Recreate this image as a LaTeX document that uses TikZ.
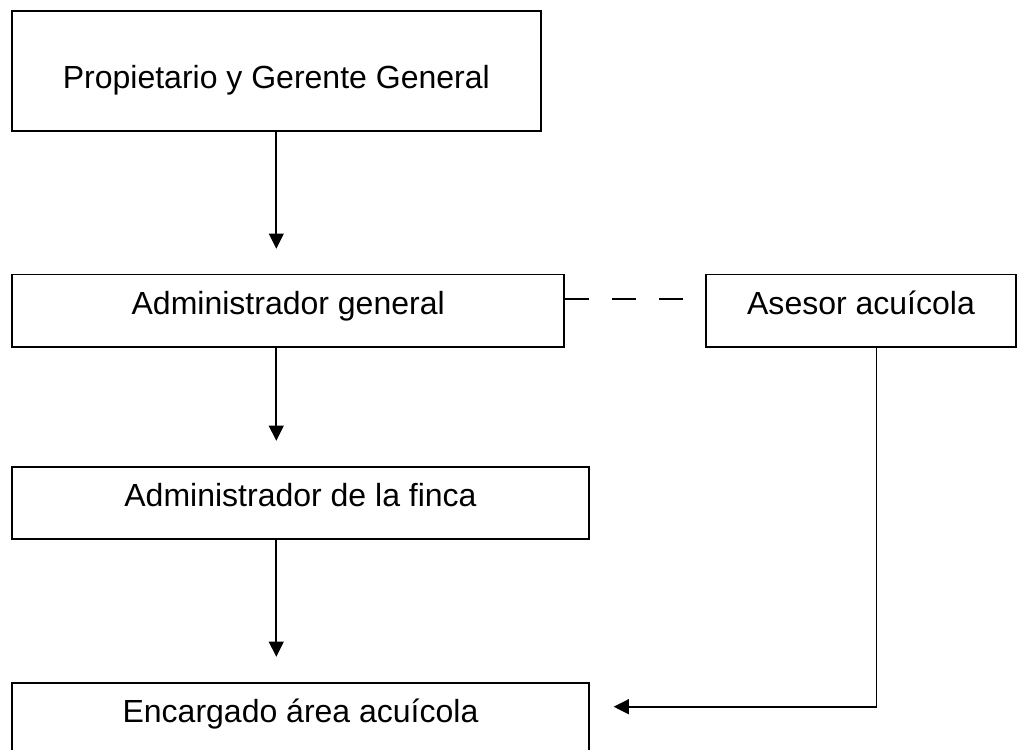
\documentclass[tikz,border=0pt]{standalone}
\usepackage{fontspec}
\setmainfont{Liberation Sans}
\usetikzlibrary{arrows.meta}

\begin{document}
\begin{tikzpicture}[x=0.025cm, y=-0.025cm, line width=1.2pt,
  every node/.style={draw, rectangle, line width=1.2pt, font=\fontsize{22.76pt}{27pt}\selectfont, text height=0.575cm, text depth=0.375cm},
  arr/.style={-{Triangle[length=0.38cm, width=0.37cm]}, shorten >=0.625cm}]
\useasboundingbox (0,0) rectangle (1028,750);
\clip (0,0) rectangle (1028,750);
\node[minimum width=13.22cm, minimum height=3cm, text height=0.865cm, text depth=0cm] (L1N1) at (276.3,70.7) {Propietario y Gerente General};
\node[minimum width=13.79cm, minimum height=1.81cm] (L2N1) at (288.2,310.8) {Administrador general};
\node[minimum width=7.735cm, minimum height=1.81cm] (L2N2) at (861,310.8) {Asesor acuícola};
\node[minimum width=14.41cm, minimum height=1.8cm] (L3N1) at (300.5,502.7) {Administrador de la finca};
\node[minimum width=14.41cm, minimum height=1.8cm] (L4N1) at (300.5,718.7) {Encargado área acuícola};
\draw[arr] (L1N1.south) -- (L1N1.south |- L2N1.north);
\draw[arr] (L2N1.south -| L1N1.south) -- (L1N1.south |- L3N1.north);
\draw[arr] (L3N1.south -| L1N1.south) -- (L1N1.south |- L4N1.north);
\draw[dash pattern=on 0.6cm off 0.575cm] ([yshift=0.3cm]L2N1.east) -- ([yshift=0.3cm]L2N2.west);
\draw[arr, shorten >=0.6cm] ([xshift=0.39cm]L2N2.south) |- ([yshift=0.3cm]L4N1.east);
\end{tikzpicture}
\end{document}
